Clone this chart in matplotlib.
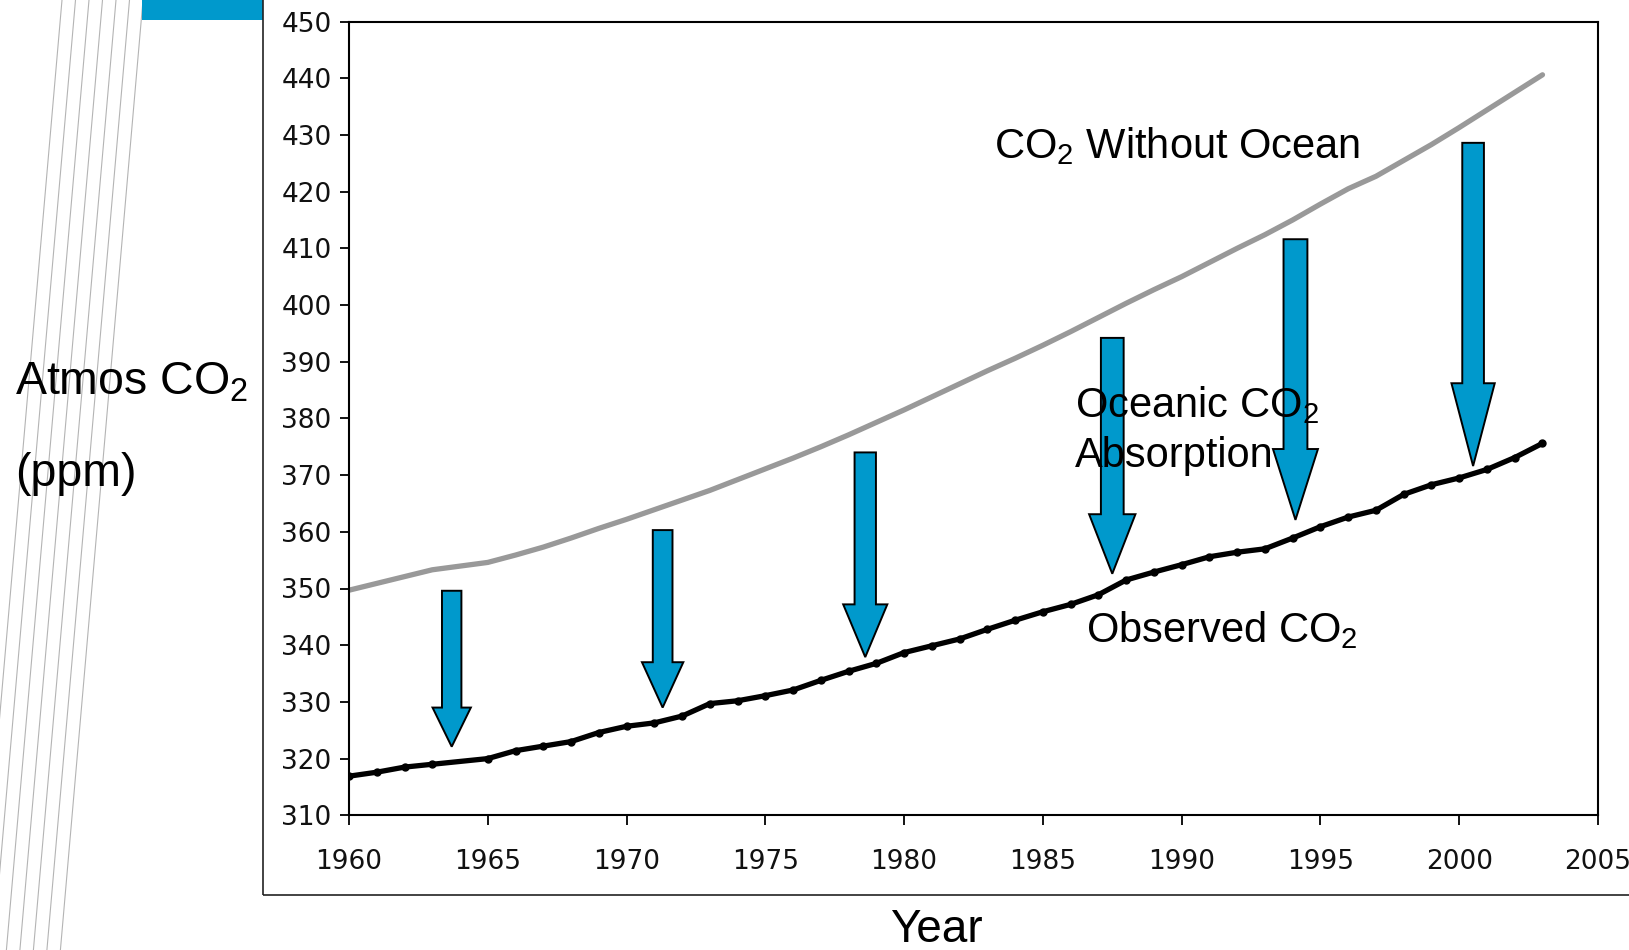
import numpy as np
import matplotlib.pyplot as plt
from matplotlib.patches import Polygon, Rectangle
from matplotlib.lines import Line2D

plt.rcParams['mathtext.fontset'] = 'custom'
plt.rcParams['mathtext.rm'] = 'Liberation Sans'

W, H = 1629, 950

# годы (1964 в ряду нет)
years = [1960, 1961, 1962, 1963, 1965, 1966, 1967, 1968, 1969, 1970,
         1971, 1972, 1973, 1974, 1975, 1976, 1977, 1978, 1979, 1980,
         1981, 1982, 1983, 1984, 1985, 1986, 1987, 1988, 1989, 1990,
         1991, 1992, 1993, 1994, 1995, 1996, 1997, 1998, 1999, 2000,
         2001, 2002, 2003]
observed = [316.9, 317.6, 318.5, 319.0, 320.0, 321.4, 322.2, 323.0, 324.6, 325.7,
            326.3, 327.5, 329.7, 330.2, 331.1, 332.1, 333.8, 335.4, 336.8, 338.7,
            339.9, 341.1, 342.8, 344.4, 345.9, 347.2, 348.9, 351.5, 352.9, 354.2,
            355.6, 356.4, 357.0, 358.9, 360.9, 362.6, 363.8, 366.6, 368.3, 369.5,
            371.0, 373.1, 375.6]
without_ocean = [349.7, 350.9, 352.1, 353.3, 354.6, 355.9, 357.3, 358.9, 360.6, 362.2,
                 363.9, 365.6, 367.3, 369.2, 371.1, 373.0, 375.0, 377.1, 379.3, 381.5,
                 383.8, 386.1, 388.4, 390.6, 392.9, 395.3, 397.8, 400.3, 402.7, 405.0,
                 407.5, 410.0, 412.4, 415.0, 417.8, 420.5, 422.7, 425.5, 428.3, 431.3,
                 434.4, 437.5, 440.6]

# стрелки: год, верх, начало наконечника, острие
arrow_year = [1963.7, 1971.3, 1978.6, 1987.5, 1994.1, 2000.5]
arrow_top = [349.6, 360.3, 374.0, 394.2, 411.6, 428.6]
arrow_neck = [329.0, 337.0, 347.2, 363.1, 374.6, 386.2]
arrow_tip = [322.1, 329.0, 337.9, 352.6, 362.1, 371.6]

y_ticks = list(range(310, 451, 10))
x_ticks = list(range(1960, 2006, 5))

BLUE = '#0099cc'
shaft_w = [0.70, 0.71, 0.77, 0.82, 0.86, 0.78]
head_w = [1.38, 1.49, 1.59, 1.67, 1.62, 1.56]

fig = plt.figure(figsize=(W / 100, H / 100), dpi=100)

def fx(x):
    return x / W

def fy(y):
    return 1 - y / H

# декоративные наклонные линии слева
for k in range(7):
    x0 = 62 + 13.5 * k
    fig.add_artist(Line2D([fx(x0), fx(x0 - 82.6)], [fy(0), fy(H)],
                          color='#b4b4b4', lw=0.8, zorder=0))
fig.add_artist(Rectangle((fx(142), fy(20)), fx(121), 20 / H,
                         facecolor=BLUE, edgecolor='none', zorder=1))
# рамка диаграммы
fig.add_artist(Rectangle((fx(263.3), fy(895)), 1.0, 1.0, facecolor='none',
                         edgecolor='#222222', lw=1.2, zorder=1))

ax = fig.add_axes([fx(349), fy(815.3), fx(1598) - fx(349), fy(21.5) - fy(815.3)])
ax.set_xlim(1960, 2005)
ax.set_ylim(310, 450)

ax.plot(years, without_ocean, color='#999999', lw=3.8, solid_capstyle='round', zorder=2)
ax.plot(years, observed, color='black', lw=3.8, marker='o', ms=5, zorder=3)

for i in range(len(arrow_year)):
    x = arrow_year[i]
    s = shaft_w[i] / 2
    h = head_w[i] / 2
    pts = [(x - s, arrow_top[i]), (x + s, arrow_top[i]), (x + s, arrow_neck[i]),
           (x + h, arrow_neck[i]), (x, arrow_tip[i]), (x - h, arrow_neck[i]),
           (x - s, arrow_neck[i])]
    ax.add_patch(Polygon(pts, closed=True, facecolor=BLUE, edgecolor='black',
                         lw=1.4, joinstyle='miter', zorder=4))

ax.set_yticks(y_ticks)
ax.set_xticks(x_ticks)
for sp in ax.spines.values():
    sp.set_linewidth(1.5)
ax.tick_params(axis='y', direction='out', length=6.5, width=1.3, pad=6,
               labelsize=19, labelcolor='#111111')
ax.tick_params(axis='x', direction='out', length=7, width=1.3, pad=17,
               labelsize=19, labelcolor='#111111')
for lab in ax.get_xticklabels() + ax.get_yticklabels():
    lab.set_fontfamily('DejaVu Sans')

font = dict(family='Liberation Sans', color='black', va='baseline', ha='left')
fig.text(fx(994), fy(158), r'CO$_\mathrm{2}$ Without Ocean', fontsize=30, zorder=5, **font)
fig.text(fx(1075), fy(417), r'Oceanic CO$_\mathrm{2}$', fontsize=30, zorder=5, **font)
fig.text(fx(1075), fy(467), 'Absorption', fontsize=30, zorder=5, **font)
fig.text(fx(1086), fy(642), r'Observed CO$_\mathrm{2}$', fontsize=30, zorder=5, **font)
fig.text(fx(15), fy(395), r'Atmos CO$_\mathrm{2}$', fontsize=33.5, zorder=5, **font)
fig.text(fx(15), fy(486), '(ppm)', fontsize=33.5, zorder=5, **font)
fig.text(fx(936.7), fy(942), 'Year', fontsize=33, family='Liberation Sans',
         ha='center', va='baseline')

fig.savefig('out.png', dpi=100)
